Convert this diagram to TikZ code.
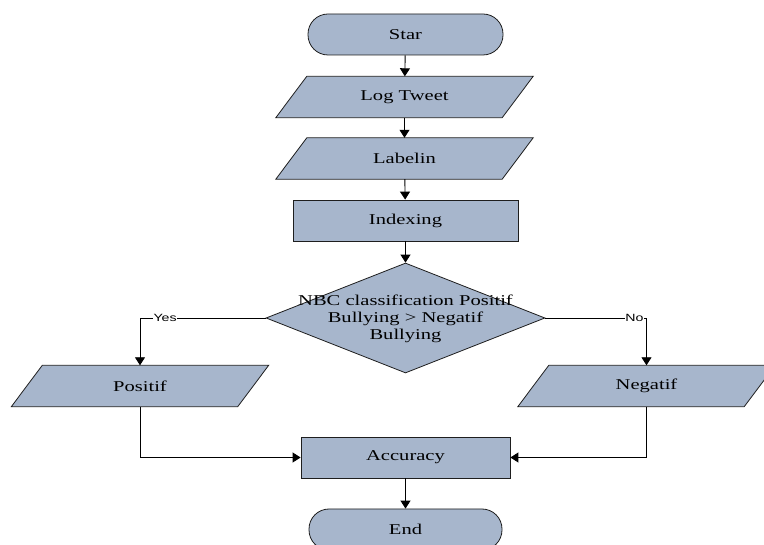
\documentclass[tikz,border=0pt]{standalone}
\usepackage{fontspec}
\setmainfont{Liberation Serif}[FakeStretch=1.37]
\newfontfamily\lblfont{Liberation Sans}[FakeStretch=1.35]
\usetikzlibrary{arrows.meta,shapes.geometric,backgrounds}
\definecolor{boxfill}{RGB}{167,182,204}
\definecolor{edgegray}{RGB}{30,30,30}
\begin{document}
\begin{tikzpicture}[x=1pt,y=-1pt,
  every node/.style={font=\fontsize{15}{17}\selectfont},
  shapeline/.style={draw=edgegray,line width=0.8pt,fill=boxfill},
  term/.style={shapeline,rectangle,rounded corners=20pt,minimum width=195pt,minimum height=41pt,inner sep=0pt},
  procbox/.style={shapeline,rectangle,minimum height=41pt,inner sep=0pt},
  iobox/.style={rectangle,minimum width=195pt,minimum height=41pt,inner sep=0pt},
  decbox/.style={shapeline,diamond,minimum width=279pt,minimum height=110pt,inner sep=0pt},
  flow/.style={draw=black,line width=0.9pt,-{Triangle[length=8pt,width=10pt]}},
  plainflow/.style={draw=black,line width=0.9pt},
  lbl/.style={font=\lblfont\fontsize{10.5}{12}\selectfont,fill=white,inner sep=0.5pt}
]
\useasboundingbox (0,0) rectangle (764,545);

% main column
\node[term] (star) at (405.5,34.5) {Star};
\node[iobox] (log) at (404.5,97) {Log Tweet};
\node[iobox] (lab) at (404.5,158.5) {Labelin};
\node[procbox,minimum width=225pt] (idx) at (405.5,220.5) {Indexing};
\node[decbox] (dec) at (405.5,318) {};
\node[align=center] (dectext) at (405.5,319) {NBC classification Positif\\Bullying > Negatif\\Bullying};

% outcomes
\node[iobox] (pos) at (140,386) {Positif};
\node[iobox] (neg) at (646.5,386) {Negatif};
\node[procbox,minimum width=209pt] (acc) at (405.5,457.5) {Accuracy};
\node[term,minimum width=193pt] (end) at (405.5,529.5) {End};

% parallelogram outlines behind the input/output labels
\begin{scope}[on background layer]
  \foreach \n in {log,lab,pos,neg}{
    \path[shapeline] ([xshift=-31pt]\n.south west) -- (\n.south east)
      -- ([xshift=31pt]\n.north east) -- (\n.north west) -- cycle;
  }
\end{scope}

% connectors
\draw[flow] (star) -- (log);
\draw[flow] (log) -- (lab);
\draw[flow] (lab) -- (idx);
\draw[flow] (idx) -- (dec);
\draw[flow] (dec.west) -| node[lbl,pos=0.4] {Yes} (pos.north);
\draw[flow] (dec.east) -| node[lbl,pos=0.44] {No} (neg.north);
\draw[flow] (pos.south) |- (acc.west);
\draw[flow] (neg.south) |- (acc.east);
\draw[flow] (acc) -- (end);
\end{tikzpicture}
\end{document}
